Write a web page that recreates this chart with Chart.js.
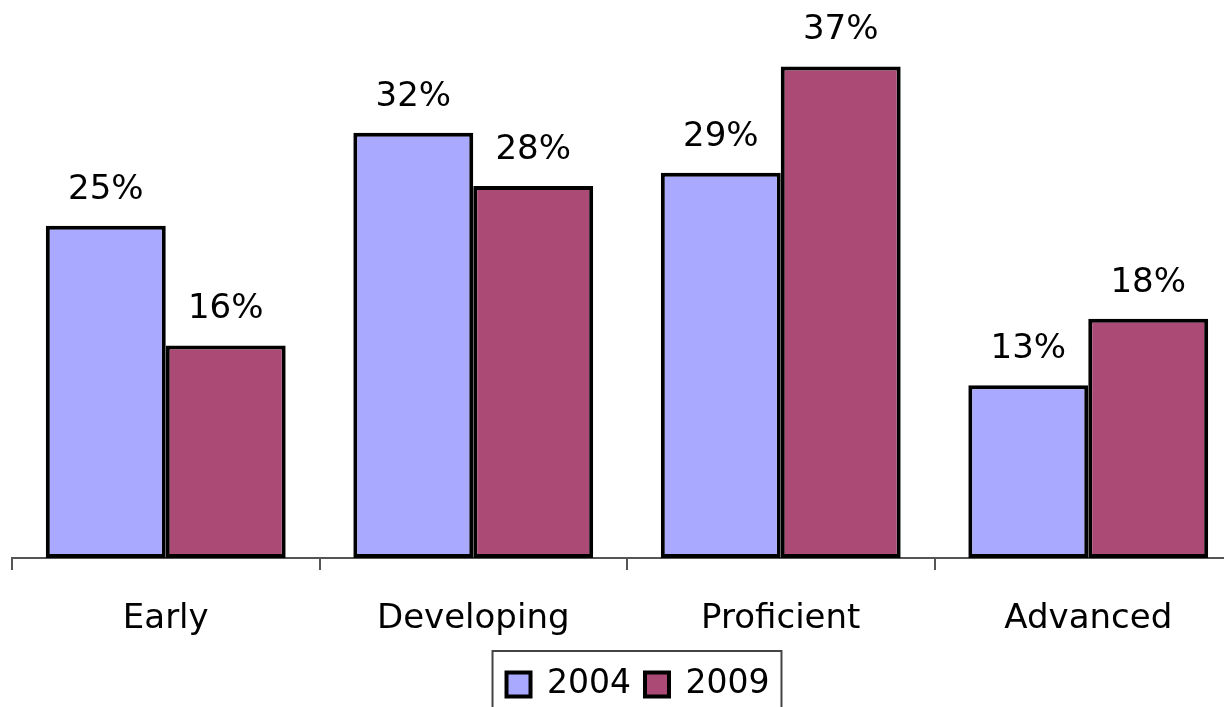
<!DOCTYPE html>
<html>
<head>
<meta charset="utf-8">
<script src="https://cdn.jsdelivr.net/npm/chart.js@4/dist/chart.umd.min.js"></script>
<style>
html,body{margin:0;padding:0;background:#fff;overflow:hidden;width:1224px;height:707px;}
#wrap{width:1270px;height:707px;position:relative;}
</style>
</head>
<body>
<div id="wrap"><canvas id="c" width="1270" height="707"></canvas></div>
<script>
const categories = ['Early', 'Developing', 'Proficient', 'Advanced'];
const series2004 = [25, 32, 29, 13];
const series2009 = [16, 28, 37, 18];
const seriesNames = ['2004', '2009'];

const FONT = "'DejaVu Sans', sans-serif";
const LEGEND_DX = 11, LEGEND_DY = 4;

const valueLabels = {
  id: 'valueLabels',
  afterDatasetsDraw(chart) {
    const ctx = chart.ctx;
    ctx.save();
    ctx.font = '34px ' + FONT;
    ctx.fillStyle = '#000';
    ctx.textAlign = 'center';
    ctx.textBaseline = 'alphabetic';
    chart.data.datasets.forEach((ds, i) => {
      chart.getDatasetMeta(i).data.forEach((el, j) => {
        ctx.fillText(ds.data[j] + '%', el.x, el.y - 27);
      });
    });
    ctx.restore();
  }
};

const legendShift = {
  id: 'legendShift',
  afterLayout(chart) {
    const lg = chart.legend;
    lg.left += LEGEND_DX; lg.right += LEGEND_DX;
    lg.top += LEGEND_DY; lg.bottom += LEGEND_DY;
  }
};

const legendBorder = {
  id: 'legendBorder',
  afterDraw(chart) {
    const boxes = chart.legend.legendHitBoxes;
    if (!boxes || !boxes.length) return;
    let l = Infinity, r = -Infinity;
    boxes.forEach(b => { l = Math.min(l, b.left); r = Math.max(r, b.left + b.width); });
    const ctx = chart.ctx;
    ctx.save();
    ctx.strokeStyle = '#444';
    ctx.lineWidth = 2;
    ctx.strokeRect(l - 14, 651, (r - l) + 26, 100);
    ctx.restore();
  }
};

new Chart(document.getElementById('c'), {
  type: 'bar',
  data: {
    labels: categories,
    datasets: [
      { label: seriesNames[0], data: series2004, backgroundColor: '#A9AAFF', borderColor: '#000', borderWidth: 4, borderSkipped: false },
      { label: seriesNames[1], data: series2009, backgroundColor: '#AA4A75', borderColor: '#000', borderWidth: 4, borderSkipped: false }
    ]
  },
  options: {
    responsive: false,
    animation: false,
    devicePixelRatio: 1,
    layout: { padding: { left: 12, right: 28, top: 0, bottom: 0 } },
    datasets: { bar: { categoryPercentage: 0.78, barPercentage: 1 } },
    scales: {
      x: {
        grid: { offset: true, drawOnChartArea: false, drawTicks: true, tickLength: 12, color: '#555', lineWidth: 2 },
        border: { display: true, color: '#555', width: 2 },
        ticks: { font: { family: FONT, size: 34 }, color: '#000', padding: 29, maxRotation: 0 },
        afterFit(scale) { scale.height = 92; }
      },
      y: {
        display: false,
        min: 0,
        max: 42
      }
    },
    plugins: {
      legend: {
        position: 'bottom',
        labels: {
          font: { family: FONT, size: 33 },
          color: '#000',
          boxWidth: 24,
          boxHeight: 24,
          padding: 14,
          generateLabels(chart) {
            const items = Chart.defaults.plugins.legend.labels.generateLabels(chart);
            items.forEach(it => { it.lineWidth = 4; it.strokeStyle = '#000'; });
            return items;
          }
        }
      },
      tooltip: { enabled: false }
    }
  },
  plugins: [legendShift, valueLabels, legendBorder]
});
</script>
</body>
</html>
